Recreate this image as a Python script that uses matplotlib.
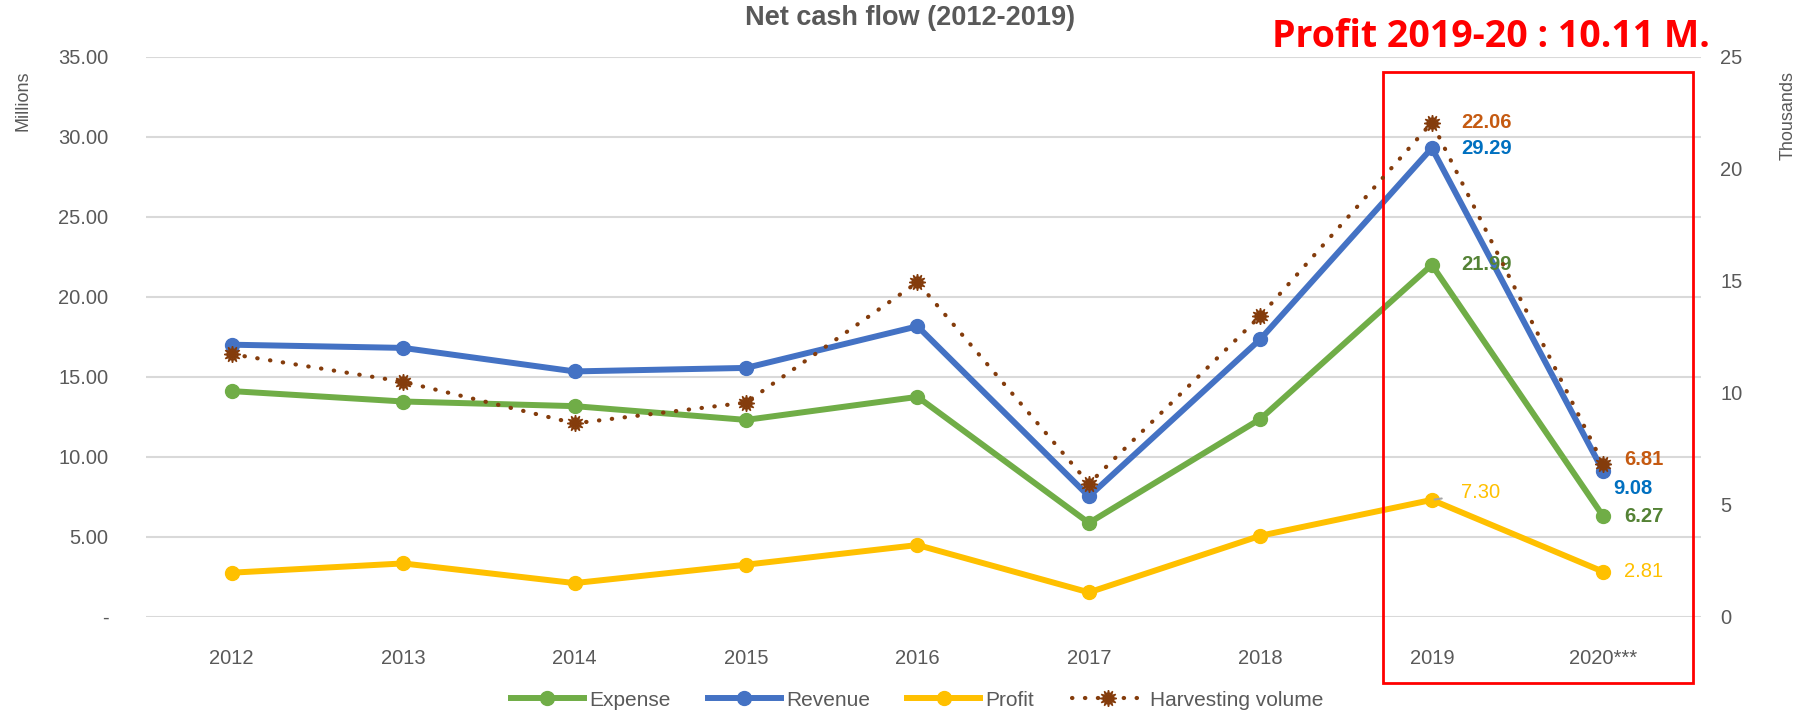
import matplotlib
matplotlib.use("Agg")
import matplotlib.pyplot as plt
from matplotlib.patches import Rectangle

years = ['2012', '2013', '2014', '2015', '2016', '2017', '2018', '2019', '2020***']
expense = [14.10, 13.45, 13.16, 12.30, 13.74, 5.86, 12.36, 21.99, 6.27]
revenue = [17.00, 16.80, 15.33, 15.55, 18.15, 7.52, 17.35, 29.29, 9.08]
profit = [2.75, 3.33, 2.10, 3.25, 4.48, 1.52, 5.06, 7.30, 2.81]
harvest = [11.72, 10.49, 8.63, 9.56, 14.93, 5.94, 13.43, 22.06, 6.81]

plt.rcParams['font.family'] = ['Liberation Sans', 'DejaVu Sans']
gray = '#595959'
c_exp, c_rev, c_pro, c_har = '#70AD47', '#4472C4', '#FFC000', '#843C0C'

fig = plt.figure(figsize=(18.14, 7.12), dpi=100)
ax = fig.add_axes([146/1814, 1 - 616.7/712, (1701-146)/1814, 560/712])
ax2 = ax.twinx()

x = list(range(len(years)))
lw, ms = 4.3, 10
l1, = ax.plot(x, expense, color=c_exp, lw=lw, marker='o', ms=ms, label='Expense', zorder=3)
l2, = ax.plot(x, revenue, color=c_rev, lw=lw, marker='o', ms=ms, label='Revenue', zorder=3)
l3, = ax.plot(x, profit, color=c_pro, lw=lw, marker='o', ms=ms, label='Profit', zorder=3)
l4, = ax2.plot(x, harvest, color=c_har, lw=3, ls=(0, (0.1, 3.0)), dash_capstyle='round',
               marker=(12, 1, 0), ms=12, label='Harvesting volume', zorder=4)

ax.set_xlim(-0.5, 8.57)
ax.set_ylim(0, 35)
ax2.set_ylim(0, 25)
ax.set_yticks([0, 5, 10, 15, 20, 25, 30, 35])
ax.set_yticklabels(['-'] + [f'{v:.2f}' for v in [5, 10, 15, 20, 25, 30, 35]])
ax2.set_yticks([0, 5, 10, 15, 20, 25])
ax.set_xticks(x)
ax.set_xticklabels(years)

ax.grid(axis='y', color='#D9D9D9', lw=1.5)
ax.set_axisbelow(True)
for a in (ax, ax2):
    for s in a.spines.values():
        s.set_visible(False)
ax.tick_params(axis='y', length=0, pad=27, labelsize=14.5, labelcolor=gray)
ax.tick_params(axis='x', length=0, pad=23.5, labelsize=14.5, labelcolor=gray)
ax2.tick_params(axis='y', length=0, pad=14, labelsize=14.5, labelcolor=gray)

fig.text(23/1814, 1 - 101/712, 'Millions', rotation=90, ha='center', va='center',
         fontsize=13, color=gray)
fig.text(1788/1814, 1 - 116/712, 'Thousands', rotation=90, ha='center', va='center',
         fontsize=13, color=gray)
fig.text(910/1814, 1 - 18/712, 'Net cash flow (2012-2019)', ha='center', va='center',
         fontsize=19.5, fontweight='bold', color=gray)
fig.text(1710/1814, 1 - 37/712, 'Profit 2019-20 : 10.11 M.', ha='right', va='center',
         fontsize=27, fontweight='bold', color='#FF0000', family=['Open Sans', 'DejaVu Sans'])

ax.add_patch(Rectangle((6.716, -0.118), 8.525 - 6.716, 0.973 + 0.118,
                       transform=ax.get_xaxis_transform(), fill=False,
                       edgecolor='#FF0000', lw=2, clip_on=False, zorder=10))

# data labels for 2019 and 2020
lab = dict(fontsize=14.5, fontweight='bold', va='center', ha='left', textcoords='offset points')
ax2.annotate(f'{harvest[7]:.2f}', (7, harvest[7]), xytext=(21, 0), color='#C55A11', **lab)
ax.annotate(f'{revenue[7]:.2f}', (7, revenue[7]), xytext=(21, 0), color='#0070C0', **lab)
ax.annotate(f'{expense[7]:.2f}', (7, expense[7]), xytext=(21, 0), color='#548235', **lab)
ax.annotate(f'{profit[7]:.2f}', (7, profit[7]), xytext=(21, 5), color=c_pro,
            fontsize=14.5, va='center', ha='left', textcoords='offset points',
            arrowprops=dict(arrowstyle='-', color='#A6A6A6', lw=1.5, shrinkA=12, shrinkB=2))
ax2.annotate(f'{harvest[8]:.2f}', (8, harvest[8]), xytext=(15, 3), color='#C55A11',
             arrowprops=dict(arrowstyle='-', color='#A6A6A6', lw=1.5, shrinkA=8, shrinkB=2), **lab)
ax.annotate(f'{revenue[8]:.2f}', (8, revenue[8]), xytext=(7, -12), color='#0070C0', **lab)
ax.annotate(f'{expense[8]:.2f}', (8, expense[8]), xytext=(15, 0), color='#548235', **lab)
ax.annotate(f'{profit[8]:.2f}', (8, profit[8]), xytext=(15, 0), color=c_pro,
            fontsize=14.5, va='center', ha='left', textcoords='offset points')

leg = fig.legend([l1, l2, l3, l4], ['Expense', 'Revenue', 'Profit', 'Harvesting volume'],
                 loc='center', bbox_to_anchor=(917/1814, 1 - 700/712), ncol=4, frameon=False,
                 fontsize=15, handlelength=3.5, columnspacing=1.8, handletextpad=0.25)
for t in leg.get_texts():
    t.set_color(gray)

fig.savefig('out.png', dpi=100)
